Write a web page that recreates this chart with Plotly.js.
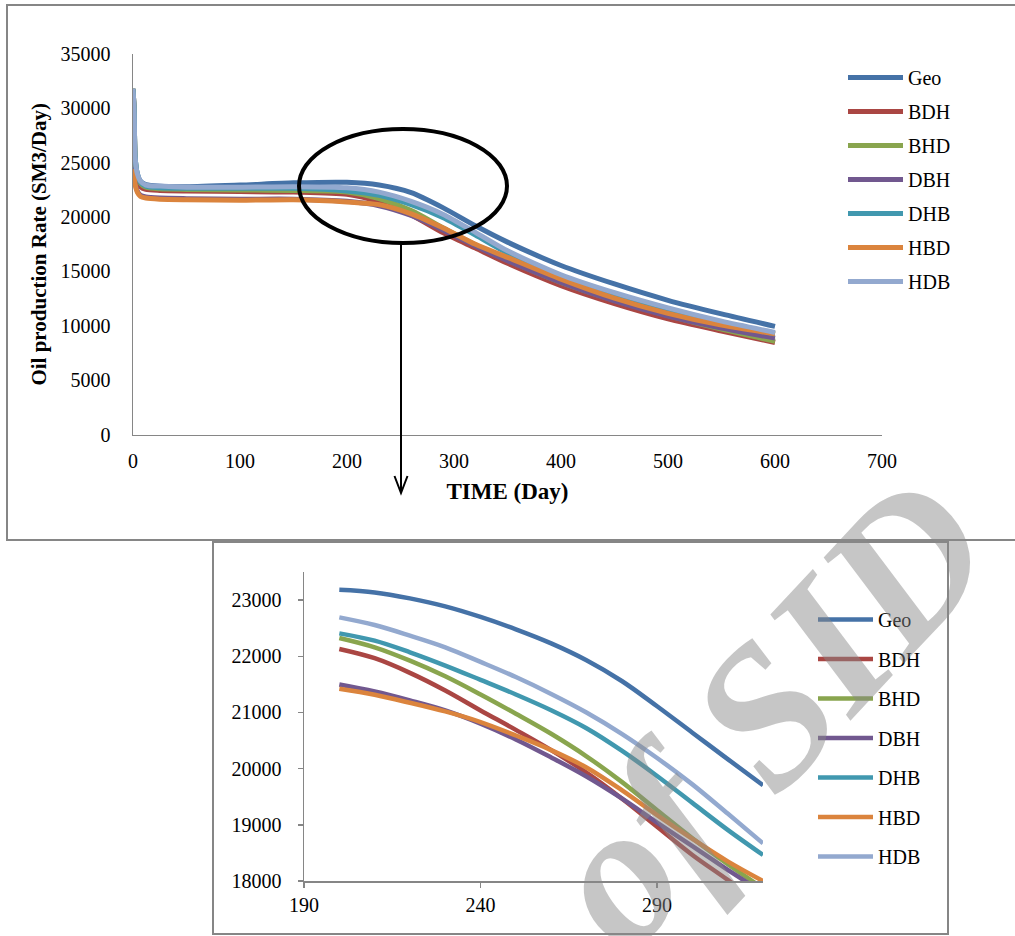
<!DOCTYPE html>
<html>
<head>
<meta charset="utf-8">
<script src="https://cdn.plot.ly/plotly-3.0.1.min.js"></script>
<style>html,body{margin:0;padding:0;background:#fff;}#chart{width:1015px;height:936px;}</style>
</head>
<body>
<div id="chart"></div>
<script>
// ---------- data: full run (top chart) ----------
const seriesNames = ['Geo', 'BDH', 'BHD', 'DBH', 'DHB', 'HBD', 'HDB'];
const topDays = [0, 1, 2, 4, 7, 12, 25, 50, 100, 150, 200, 230, 260, 290, 320, 350, 400, 450, 500, 550, 600];
const geoTop = [31800, 30000, 25500, 24000, 23300, 23000, 22850, 22800, 22950, 23150, 23200, 22950, 22250, 20850, 19200, 17700, 15550, 13850, 12350, 11100, 9950];
const bdhTop = [31800, 30000, 25000, 23500, 22800, 22550, 22450, 22400, 22350, 22300, 22100, 21400, 20200, 18550, 17150, 15750, 13700, 12050, 10650, 9530, 8470];
const bhdTop = [31800, 30000, 25500, 23800, 23100, 22750, 22600, 22550, 22500, 22450, 22300, 21700, 20600, 19000, 17450, 16050, 14000, 12350, 10950, 9700, 8580];
const dbhTop = [24600, 24200, 23200, 22400, 22000, 21850, 21750, 21700, 21650, 21650, 21450, 21050, 20150, 18800, 17350, 16000, 14000, 12300, 10900, 9800, 8870];
const dhbTop = [31800, 30000, 25500, 24000, 23200, 22850, 22700, 22650, 22650, 22650, 22400, 22000, 21150, 19950, 18350, 16700, 14550, 12900, 11500, 10300, 9250];
const hbdTop = [24400, 24000, 23000, 22300, 21900, 21750, 21650, 21600, 21550, 21600, 21400, 21150, 20300, 19000, 17500, 16300, 14300, 12550, 11150, 10070, 9270];
const hdbTop = [31800, 30000, 25500, 24000, 23300, 22950, 22850, 22750, 22750, 22800, 22700, 22300, 21450, 20250, 18600, 16900, 14700, 13050, 11650, 10430, 9390];

// ---------- data: zoomed window (bottom chart) ----------
const zoomDays = [200, 210, 220, 230, 240, 250, 260, 270, 280, 290, 300, 310, 320];
const geoZoom = [23183, 23136, 23030, 22888, 22700, 22480, 22230, 21930, 21560, 21110, 20640, 20170, 19705];
const bdhZoom = [22130, 21965, 21705, 21391, 21036, 20690, 20330, 19930, 19469, 18966, 18463, 18020, 17560];
const bhdZoom = [22326, 22160, 21923, 21645, 21320, 20977, 20620, 20220, 19764, 19260, 18760, 18300, 17870];
const dbhZoom = [21498, 21373, 21214, 21036, 20800, 20520, 20200, 19860, 19470, 19040, 18620, 18200, 17790];
const dhbZoom = [22408, 22278, 22071, 21835, 21580, 21320, 21040, 20720, 20320, 19870, 19390, 18910, 18463];
const hbdZoom = [21421, 21314, 21172, 21018, 20829, 20590, 20330, 20020, 19617, 19173, 18750, 18350, 18000];
const hdbZoom = [22692, 22556, 22367, 22160, 21900, 21630, 21330, 21000, 20620, 20190, 19720, 19200, 18670];

const topTicks = [0, 100, 200, 300, 400, 500, 600, 700];
const zoomTicks = [190, 240, 290];

// ---------- styling ----------
const colors = ['#4572A7', '#AA4643', '#89A54E', '#71588F', '#4198AF', '#DB843D', '#93A9CF'];
const topSeries = [geoTop, bdhTop, bhdTop, dbhTop, dhbTop, hbdTop, hdbTop];
const zoomSeries = [geoZoom, bdhZoom, bhdZoom, dbhZoom, dhbZoom, hbdZoom, hdbZoom];

const W = 1015, H = 936;
const px = x => x / W;
const py = y => 1 - y / H;
const FONT = '"Liberation Serif", "Times New Roman", serif';
const AXC = '#868686';
const tickFont = {family: FONT, size: 20, color: '#000'};

const traces = [];
seriesNames.forEach((n, i) => {
  traces.push({
    x: topDays, y: topSeries[i], name: n, type: 'scatter', mode: 'lines',
    line: {color: colors[i], width: 5, shape: 'spline', smoothing: 0.7},
    xaxis: 'x', yaxis: 'y', legend: 'legend', legendgroup: 't' + i
  });
});
seriesNames.forEach((n, i) => {
  traces.push({
    x: zoomDays, y: zoomSeries[i], name: n, type: 'scatter', mode: 'lines',
    line: {color: colors[i], width: 4.5, shape: 'spline', smoothing: 1},
    xaxis: 'x2', yaxis: 'y2', legend: 'legend2', legendgroup: 'z' + i
  });
});

const ell = {x0: 299, x1: 507, y0: 129, y1: 243};
const arrowX = 401;

const layout = {
  width: W, height: H,
  margin: {l: 0, r: 0, t: 0, b: 0},
  paper_bgcolor: '#ffffff', plot_bgcolor: 'rgba(0,0,0,0)',
  font: {family: FONT, size: 20, color: '#000'},
  showlegend: true,
  xaxis: {
    domain: [px(133), px(882)], range: [0, 700], tickvals: topTicks, ticktext: topTicks.map(String),
    showline: true, linecolor: AXC, linewidth: 1.5, showgrid: false, zeroline: false, ticks: '',
    tickfont: tickFont, ticklabelstandoff: 8, anchor: 'y', fixedrange: true,
    title: {text: '<b>TIME (Day)</b>', font: {size: 23, family: FONT, color: '#000'}, standoff: 12}
  },
  yaxis: {
    domain: [py(434.6), py(54)], range: [0, 35000], dtick: 5000, tick0: 0, tickformat: 'd',
    showline: true, linecolor: AXC, linewidth: 1.5, showgrid: false, zeroline: false, ticks: '',
    tickfont: tickFont, ticklabelstandoff: 17, anchor: 'x', fixedrange: true,
    title: {text: '<b>Oil production Rate (SM3/Day)</b>', font: {size: 21, family: FONT, color: '#000'}, standoff: 8}
  },
  xaxis2: {
    domain: [px(304), px(763)], range: [190, 320], tickvals: zoomTicks, ticktext: zoomTicks.map(String),
    showline: true, linecolor: AXC, linewidth: 1.5, showgrid: false, zeroline: false,
    ticks: 'outside', ticklen: 5, tickcolor: AXC, tickwidth: 1.5, ticklabelstandoff: 0,
    tickfont: tickFont, anchor: 'y2', fixedrange: true
  },
  yaxis2: {
    domain: [py(881), py(572)], range: [18000, 23500], tickvals: [18000, 19000, 20000, 21000, 22000, 23000],
    ticktext: ['18000', '19000', '20000', '21000', '22000', '23000'],
    showline: true, linecolor: AXC, linewidth: 1.5, showgrid: false, zeroline: false,
    ticks: 'outside', ticklen: 5, tickcolor: AXC, tickwidth: 1.5, ticklabelstandoff: 12,
    tickfont: tickFont, anchor: 'x2', fixedrange: true
  },
  legend: {
    x: px(843), xanchor: 'left', y: py(58), yanchor: 'top',
    bgcolor: 'rgba(0,0,0,0)', borderwidth: 0, font: {size: 20, family: FONT, color: '#000'},
    itemwidth: 55, traceorder: 'grouped', tracegroupgap: 5, itemclick: false
  },
  legend2: {
    x: px(813), xanchor: 'left', y: py(600), yanchor: 'top',
    bgcolor: 'rgba(0,0,0,0)', borderwidth: 0, font: {size: 20, family: FONT, color: '#000'},
    itemwidth: 55, traceorder: 'grouped', tracegroupgap: 10.5, itemclick: false
  },
  shapes: [
    {type: 'rect', xref: 'paper', yref: 'paper', x0: px(7), x1: px(1030), y0: py(540), y1: py(5),
     line: {color: AXC, width: 2}, layer: 'below'},
    {type: 'rect', xref: 'paper', yref: 'paper', x0: px(213), x1: px(948), y0: py(934), y1: py(542),
     line: {color: AXC, width: 2}, layer: 'below'},
    {type: 'circle', xref: 'paper', yref: 'paper', x0: px(ell.x0), x1: px(ell.x1), y0: py(ell.y1), y1: py(ell.y0),
     line: {color: '#000', width: 4}, layer: 'above'},
    {type: 'line', xref: 'paper', yref: 'paper', x0: px(arrowX), x1: px(arrowX), y0: py(ell.y1), y1: py(492),
     line: {color: '#000', width: 2}, layer: 'above'},
    {type: 'path', xref: 'paper', yref: 'paper',
     path: 'M' + px(arrowX - 6.5) + ',' + py(476) + ' L' + px(arrowX) + ',' + py(493) + ' L' + px(arrowX + 6.5) + ',' + py(476),
     line: {color: '#000', width: 2}, layer: 'above'}
  ],
  annotations: [
    {xref: 'paper', yref: 'paper', x: px(525), y: py(970), xanchor: 'center', yanchor: 'middle', showarrow: false,
     text: '<b><i>Archive of SID</i></b>', textangle: -47,
     font: {family: FONT, size: 200, color: 'rgba(135,135,135,0.48)'}}
  ]
};

Plotly.newPlot('chart', traces, layout, {staticPlot: true, displayModeBar: false});
</script>
</body>
</html>
